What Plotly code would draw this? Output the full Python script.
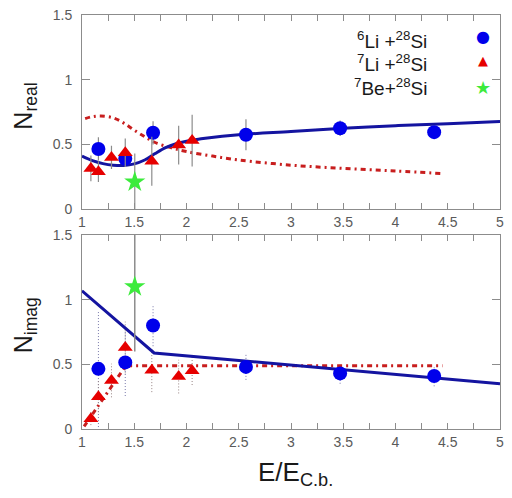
import plotly.graph_objects as go

# ---------------- data ----------------
# Top panel (N_real)
li6_x = [1.157, 1.414, 1.68, 2.569, 3.47, 4.37]
li6_real = [0.465, 0.39, 0.59, 0.575, 0.625, 0.595]
li6_real_err = [0.09, 0.05, 0.09, 0.12, 0.06, 0.05]

li7_x = [1.085, 1.157, 1.282, 1.414, 1.668, 1.925, 2.054]
li7_real = [0.315, 0.29, 0.40, 0.435, 0.37, 0.495, 0.53]
li7_real_err = [0.1, 0.08, 0.09, 0.11, 0.19, 0.15, 0.2]

be7_x = [1.505]
be7_real = [0.21]
be7_real_err = [0.22]

curve_real_x = [1.0, 1.1, 1.2, 1.3, 1.4, 1.5, 1.6, 1.7, 1.8, 1.9, 2.0, 2.2, 2.5, 3.0, 3.5, 4.0, 4.5, 5.0]
curve_real_y = [0.41, 0.375, 0.352, 0.34, 0.338, 0.35, 0.38, 0.43, 0.475, 0.505, 0.525, 0.55, 0.575, 0.6, 0.625, 0.645, 0.66, 0.677]

dd_real_x = [1.03, 1.1, 1.18, 1.3, 1.4, 1.5, 1.6, 1.7, 1.85, 2.0, 2.25, 2.5, 3.0, 3.5, 4.0, 4.45]
dd_real_y = [0.70, 0.715, 0.72, 0.705, 0.665, 0.61, 0.56, 0.515, 0.475, 0.445, 0.41, 0.38, 0.34, 0.315, 0.295, 0.275]

# Bottom panel (N_imag)
li6_imag = [0.465, 0.515, 0.80, 0.48, 0.43, 0.41]
li6_imag_err = [0.45, 0.26, 0.16, 0.1, 0.08, 0.08]

li7_imag = [0.08, 0.25, 0.375, 0.63, 0.455, 0.405, 0.45]
li7_imag_err = [0.05, 0.12, 0.13, 0.2, 0.17, 0.13, 0.11]

be7_imag = [1.1]
be7_imag_err = [0.5]

curve_imag_x = [1.0, 1.69, 5.0]
curve_imag_y = [1.068, 0.588, 0.35]

dd_imag_x = [1.02, 1.42, 4.45]
dd_imag_y = [0.02, 0.49, 0.49]

x_ticks = [1, 1.5, 2, 2.5, 3, 3.5, 4, 4.5, 5]
y_ticks = [0, 0.5, 1, 1.5]

legend_labels = ["<sup>6</sup>Li +<sup>28</sup>Si",
                 "<sup>7</sup>Li +<sup>28</sup>Si",
                 "<sup>7</sup>Be+<sup>28</sup>Si"]
legend_glyphs = ["●", "▲", "★"]

# ---------------- styles ----------------
BLUE = "rgb(0,0,235)"
NAVY = "rgb(20,20,160)"
RED = "rgb(230,0,0)"
DRED = "rgb(200,30,30)"
GREEN = "rgb(60,235,60)"
GRAY = "rgb(140,140,140)"
FONT = "Liberation Sans, Arial, sans-serif"
TXT = "rgb(25,25,25)"


def dotted_err(xs, ys, errs):
    ex, ey = [], []
    for x, y, e in zip(xs, ys, errs):
        ex += [x, x, None]
        ey += [max(y - e, 0), y + e, None]
    return ex, ey


fig = go.Figure()

# --- top panel ---
fig.add_trace(go.Scatter(x=dd_real_x, y=dd_real_y, mode="lines", line=dict(color=DRED, width=3, dash="5px,4px,2px,4px", shape="spline"),
                         xaxis="x", yaxis="y"))
fig.add_trace(go.Scatter(x=curve_real_x, y=curve_real_y, mode="lines", line=dict(color=NAVY, width=3, shape="spline"),
                         xaxis="x", yaxis="y"))
fig.add_trace(go.Scatter(x=li6_x, y=li6_real, mode="markers",
                         marker=dict(symbol="circle", size=14, color=BLUE),
                         error_y=dict(type="data", array=li6_real_err, color=GRAY, thickness=1.2, width=0),
                         xaxis="x", yaxis="y"))
fig.add_trace(go.Scatter(x=li7_x, y=li7_real, mode="markers",
                         marker=dict(symbol="triangle-up", size=13, color=RED),
                         error_y=dict(type="data", array=li7_real_err, color=GRAY, thickness=1.2, width=0),
                         xaxis="x", yaxis="y"))
fig.add_trace(go.Scatter(x=be7_x, y=be7_real, mode="markers",
                         marker=dict(symbol="star", size=16, color=GREEN),
                         error_y=dict(type="data", array=be7_real_err, color=GRAY, thickness=1.2, width=0),
                         xaxis="x", yaxis="y"))

# --- bottom panel ---
ex, ey = dotted_err(li6_x, li6_imag, li6_imag_err)
fig.add_trace(go.Scatter(x=ex, y=ey, mode="lines", line=dict(color="rgb(120,120,170)", width=1, dash="1px,2px"),
                         xaxis="x2", yaxis="y2"))
ex, ey = dotted_err(li7_x, li7_imag, li7_imag_err)
fig.add_trace(go.Scatter(x=ex, y=ey, mode="lines", line=dict(color="rgb(150,130,130)", width=1, dash="1px,2px"),
                         xaxis="x2", yaxis="y2"))
fig.add_trace(go.Scatter(x=dd_imag_x, y=dd_imag_y, mode="lines", line=dict(color=DRED, width=3, dash="5px,4px,2px,4px"),
                         xaxis="x2", yaxis="y2"))
fig.add_trace(go.Scatter(x=curve_imag_x, y=curve_imag_y, mode="lines", line=dict(color=NAVY, width=3),
                         xaxis="x2", yaxis="y2"))
fig.add_trace(go.Scatter(x=li6_x, y=li6_imag, mode="markers",
                         marker=dict(symbol="circle", size=14, color=BLUE),
                         xaxis="x2", yaxis="y2"))
fig.add_trace(go.Scatter(x=li7_x, y=li7_imag, mode="markers",
                         marker=dict(symbol="triangle-up", size=13, color=RED),
                         xaxis="x2", yaxis="y2"))
fig.add_trace(go.Scatter(x=be7_x, y=be7_imag, mode="markers",
                         marker=dict(symbol="star", size=16, color=GREEN),
                         error_y=dict(type="data", array=be7_imag_err, color=GRAY, thickness=1.5, width=0),
                         xaxis="x2", yaxis="y2"))

axis_common = dict(
    showgrid=False, zeroline=False, showline=True, linecolor=GRAY, linewidth=1,
    mirror="ticks", ticks="inside", ticklen=6, tickcolor=GRAY, automargin=False,
    ticklabeloverflow="allow",
    tickfont=dict(family=FONT, size=14, color="rgb(90,90,90)"),
)
xaxis_common = dict(axis_common, range=[1, 5], tickvals=x_ticks, ticktext=[str(v) for v in x_ticks],
                    minor=dict(dtick=0.25, ticks="inside", ticklen=6, tickcolor=GRAY, showgrid=False))
yaxis_common = dict(axis_common, range=[0, 1.5], tickvals=y_ticks, ticktext=["0", "0.5", "1", "1.5"], ticklen=8,
                    ticklabelstandoff=6)

# page body adds an 8px border; figure sized so that page == window exactly
fig.update_layout(
    width=496, height=482,
    margin=dict(l=74, r=4, t=7, b=61),
    paper_bgcolor="white", plot_bgcolor="white",
    xaxis=dict(xaxis_common, domain=[0, 1], anchor="y"),
    yaxis=dict(yaxis_common, domain=[0.531, 1], anchor="x"),
    xaxis2=dict(xaxis_common, domain=[0, 1], anchor="y2"),
    yaxis2=dict(yaxis_common, domain=[0, 0.4686], anchor="x2"),
    showlegend=False,
    font=dict(family=FONT),
)

ann = []
# legend: labels on the left, symbols on the right (as in the reference)
for lab, yy in zip(legend_labels, [0.9385, 0.8830, 0.825]):
    ann.append(dict(text=lab, xref="paper", yref="paper", x=0.829, y=yy, xanchor="right", yanchor="middle",
                    showarrow=False, font=dict(family=FONT, size=19, color=TXT)))
for g, col, sz, yy in zip(legend_glyphs, [BLUE, RED, GREEN], [16, 13, 18], [0.9476, 0.889, 0.8244]):
    ann.append(dict(text=g, xref="paper", yref="paper", x=0.960, y=yy, xanchor="center", yanchor="middle",
                    showarrow=False, font=dict(family="DejaVu Sans", size=sz, color=col)))
ann.append(dict(text="N<sub>real</sub>", xref="paper", yref="paper", x=-0.136, y=0.779, textangle=-90,
                xanchor="center", yanchor="middle", showarrow=False, font=dict(family=FONT, size=25, color=TXT)))
ann.append(dict(text="N<sub>imag</sub>", xref="paper", yref="paper", x=-0.136, y=0.251, textangle=-90,
                xanchor="center", yanchor="middle", showarrow=False, font=dict(family=FONT, size=25, color=TXT)))
ann.append(dict(text="E/E<sub>C.b.</sub>", xref="paper", yref="paper", x=0.51, y=-0.062, xanchor="center", yanchor="top",
                showarrow=False, font=dict(family=FONT, size=26, color=TXT)))
fig.update_layout(annotations=ann)

fig.write_html("out.html")
